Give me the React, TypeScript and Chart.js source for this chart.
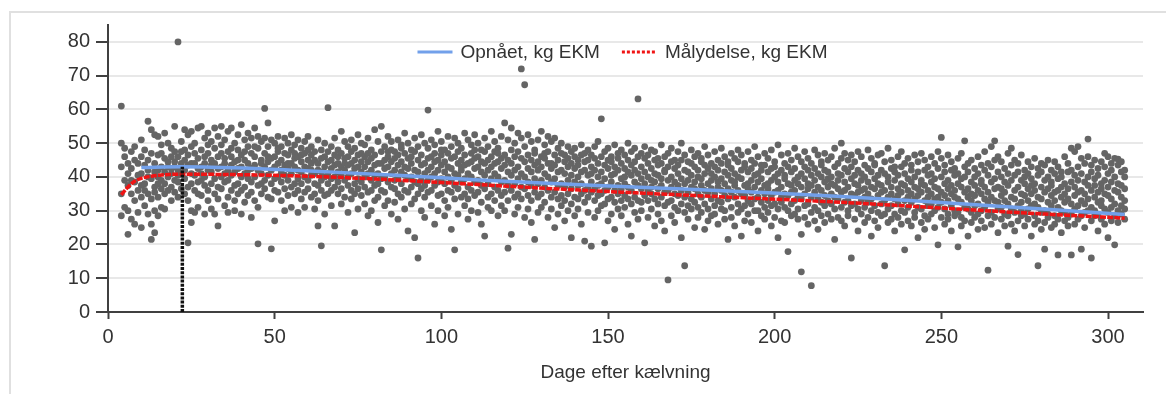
import React, { useEffect, useRef } from 'react';
import { Chart, registerables } from 'chart.js';

Chart.register(...registerables);

const FONT = "'Liberation Sans', Arial, sans-serif";

const xTicks = [0, 50, 100, 150, 200, 250, 300];
const yTicks = [0, 10, 20, 30, 40, 50, 60, 70, 80];
const X_MAX = 310.5;
const Y_MAX = 85;

const achievedLabel = 'Opnået, kg EKM';
const targetLabel = 'Målydelse, kg EKM';
const xTitle = 'Dage efter kælvning';

const achievedDays = [10, 22, 44, 66, 88, 110, 132, 154, 176, 198, 220, 243, 265, 285, 305];
const achievedKg = [42.8, 43, 42.5, 41.5, 40.4, 39.2, 38.1, 37.2, 36.3, 35.3, 34.2, 32.9, 31.5, 30.2, 28.9];

const targetDays = [4, 6, 8, 10, 13, 16, 22, 44, 66, 88, 110, 132, 154, 176, 198, 220, 243, 265, 285, 305];
const targetKg = [34.7, 37, 38.7, 39.6, 40.2, 40.6, 40.8, 40.6, 40, 39, 37.8, 36.6, 35.5, 34.5, 33.5, 32.5, 31.2, 29.9, 28.8, 27.8];

const markerDays = [22.3, 22.3];
const markerKg = [0, 43];

// [day, kg EKM, kg EKM, ...]
const cowRows: number[][] = [
  [4, 61, 50, 28.5, 35, 43], [5, 46, 39, 31, 48.5], [6, 44, 37.5, 30, 23, 41], [7, 47.5, 35, 27.5, 42.5, 39],
  [8, 45, 38.5, 33, 26, 49], [9, 44, 36, 40.5, 29.5], [10, 51, 46, 41, 34, 37.5, 25], [11, 48, 43.5, 38, 31.5, 36],
  [12, 56.5, 45, 40, 35, 29, 42], [13, 54, 47, 39.5, 33.5, 26, 21.5], [14, 52.5, 44, 37, 30, 23.5, 41.5, 35.5],
  [15, 52, 46.5, 42, 38, 34, 28.5, 40], [16, 49.5, 43, 39, 31, 36.5, 47], [17, 53, 45.5, 41.5, 35, 30.5, 38],
  [18, 50, 44.5, 40, 36, 43], [19, 48.5, 46, 41, 37, 33, 42.5], [20, 55, 47.5, 43, 39, 35.5, 44.5],
  [21, 80, 46, 42, 38.5, 34, 40.5], [22, 50.5, 44, 41, 36.5, 47.5], [23, 54, 45, 39.5, 35, 42, 48],
  [24, 52.5, 46.5, 43.5, 37, 33, 20.5], [25, 53.5, 49, 41, 38, 30, 26.5, 44], [26, 47, 44, 40.5, 36, 29.5, 50],
  [27, 54.5, 45.5, 42.5, 38.5, 31, 35], [28, 55, 48, 43, 39, 34.5, 41], [29, 51.5, 46, 40, 37.5, 29, 44],
  [30, 53, 47, 42, 36, 33, 49.5], [31, 50.5, 45, 41.5, 38, 30.5, 43.5], [32, 54.5, 48.5, 44, 39.5, 35, 29],
  [33, 52, 46, 42.5, 37, 33.5, 25.5], [34, 55, 49.5, 43, 40, 36.5, 47], [35, 51, 45.5, 41, 38.5, 31.5, 44],
  [36, 53.5, 47.5, 42, 39, 34, 29.5], [37, 54.5, 46, 43.5, 40.5, 36, 48.5], [38, 50, 44.5, 41.5, 37.5, 33, 30],
  [39, 52.5, 48, 42.5, 38, 35, 45], [40, 55.5, 46.5, 43, 40, 36, 29], [41, 51, 45, 41, 37, 32.5, 47.5],
  [42, 53, 49, 44, 39.5, 34.5, 42], [43, 51.5, 47, 42.5, 38.5, 35.5, 28], [44, 54.5, 46, 43.5, 40, 33, 49],
  [45, 52, 48.5, 42, 37.5, 31, 20.2], [46, 50.5, 45, 41, 38, 35, 44], [47, 60.3, 47, 43, 39, 36.5, 51.5],
  [48, 56, 49, 44.5, 40.5, 34, 46], [49, 18.7, 51, 45.5, 42, 38, 33.5], [50, 50, 46, 43, 39.5, 36, 27],
  [51, 52, 47.5, 44, 40, 35.5, 48.5], [52, 49, 45, 42, 38.5, 33, 41], [53, 51.5, 47, 43.5, 40.5, 36.5, 30],
  [54, 50, 46.5, 42.5, 39, 34.5, 44], [55, 52.5, 48, 44, 41, 37, 31], [56, 49.5, 45.5, 43, 38, 35, 47],
  [57, 51, 46, 42, 39.5, 36, 29.5], [58, 48.5, 44.5, 41.5, 38, 33.5, 46.5], [59, 50.5, 47, 43, 40, 35.5, 31],
  [60, 52, 45, 42.5, 39, 36.5, 48], [61, 49, 46.5, 44, 40.5, 34, 42], [62, 47.5, 45, 41, 38, 35, 30.5],
  [63, 51, 44, 42, 37.5, 33, 25.5], [64, 19.6, 48, 45.5, 41.5, 39, 36], [65, 50, 46, 43, 40, 34.5, 29],
  [66, 60.5, 47.5, 44.5, 41, 38, 35], [67, 49, 45, 42.5, 39.5, 36, 31.5], [68, 51.5, 46.5, 43.5, 40, 37, 25.5],
  [69, 48, 44, 41.5, 38.5, 35, 46], [70, 53.5, 47, 43, 40.5, 36.5, 32], [71, 50.5, 45.5, 42, 39, 34, 44],
  [72, 49, 46, 43.5, 40, 37.5, 29.5], [73, 51, 47.5, 44, 41, 36, 33.5], [74, 48.5, 45, 42.5, 38, 35, 23.5],
  [75, 52.5, 46.5, 43, 39.5, 36.5, 30.5], [76, 50, 44.5, 41.5, 38.5, 34.5, 47], [77, 49.5, 46, 43, 40, 37, 32],
  [78, 51.5, 47, 44.5, 41, 35.5, 28.5], [79, 48, 45.5, 42, 39, 36, 30], [80, 54, 46.5, 43.5, 40.5, 37.5, 33],
  [81, 50.5, 44, 41, 38, 34, 26.5], [82, 18.4, 55, 47.5, 44, 39.5, 36], [83, 49, 45, 42.5, 40, 35.5, 31.5],
  [84, 52, 46, 43, 38.5, 33, 47.5], [85, 50.5, 48, 44.5, 41, 37, 29], [86, 47.5, 45.5, 42, 39, 36.5, 32.5],
  [87, 51, 46.5, 43.5, 40, 35, 27.5], [88, 49.5, 44.5, 41.5, 38, 34, 48.5], [89, 53, 47, 43, 40.5, 36, 30.5],
  [90, 50, 45.5, 42.5, 39.5, 35.5, 24], [91, 48, 46, 44, 40, 37, 32], [92, 51.5, 47.5, 42, 38.5, 33.5, 22],
  [93, 16, 49, 45, 41.5, 38, 35], [94, 52.5, 46.5, 43.5, 39, 36.5, 30], [95, 50, 44, 41, 37.5, 34, 28],
  [96, 59.8, 48.5, 45.5, 42, 39, 35.5], [97, 51, 46, 43, 40, 36, 31.5], [98, 49.5, 47, 44.5, 41, 37.5, 26],
  [99, 53.5, 45, 42, 38.5, 34.5, 30], [100, 50.5, 46.5, 43.5, 39.5, 35, 48], [101, 48, 44.5, 41.5, 38, 33, 28.5],
  [102, 52, 47, 43, 40, 36, 31], [103, 49, 45.5, 42.5, 39, 35.5, 24.5], [104, 18.4, 51.5, 46, 41, 37.5, 33.5],
  [105, 50, 47.5, 44, 40.5, 36.5, 29], [106, 48.5, 45, 42, 38.5, 34, 43], [107, 53, 46.5, 43.5, 39.5, 35, 31.5],
  [108, 51, 44, 41, 37, 33.5, 27.5], [109, 49.5, 47, 44.5, 40, 36, 30], [110, 52.5, 45.5, 42.5, 38.5, 34.5, 48],
  [111, 50, 46, 43, 39, 35.5, 29.5], [112, 48, 44.5, 41.5, 37.5, 32.5, 26], [113, 51.5, 47.5, 44, 40.5, 36.5, 22.5],
  [114, 49, 45, 42, 38, 34, 31], [115, 53.5, 46, 43, 39.5, 35, 30], [116, 50.5, 44, 41, 37, 33, 47.5],
  [117, 48.5, 47, 44.5, 40, 36, 28.5], [118, 52, 45.5, 42.5, 38.5, 34.5, 31.5], [119, 56, 46.5, 43.5, 39, 35.5, 30],
  [120, 18.9, 51, 45, 41.5, 37.5, 33], [121, 54.5, 48, 44, 40.5, 36, 23], [122, 50, 46, 42, 38, 34, 29],
  [123, 53, 47.5, 43, 39.5, 35, 31], [124, 72, 51.5, 45.5, 41, 37, 33.5], [125, 67.3, 49, 44.5, 40, 36.5, 28],
  [126, 52.5, 46.5, 42.5, 38.5, 34.5, 30.5], [127, 50.5, 45, 41.5, 37.5, 33, 26.5], [128, 48, 47, 43.5, 39.5, 35.5, 21.5],
  [129, 51, 44.5, 42, 38, 34, 29.5], [130, 53.5, 46, 43, 39, 35, 31], [131, 49.5, 45.5, 41, 37, 32.5, 47],
  [132, 52, 47.5, 44, 40, 36, 28], [133, 50.5, 44, 42.5, 38.5, 34, 30.5], [134, 51.5, 46.5, 43.5, 39.5, 35.5, 25],
  [135, 48.5, 45, 41.5, 37.5, 33.5, 29], [136, 50, 47, 42, 38, 34.5, 31.5], [137, 46.5, 44.5, 41, 37, 33, 27],
  [138, 49, 45.5, 43, 39, 35, 30], [139, 47.5, 44, 40.5, 36.5, 32, 22], [140, 48.5, 46, 42.5, 38.5, 34, 28.5],
  [141, 45, 43.5, 40, 37.5, 33.5, 30.5], [142, 49.5, 46.5, 41.5, 38, 35, 26], [143, 47, 44.5, 42, 36, 32.5, 21],
  [144, 48, 45, 40.5, 37, 34, 29.5], [145, 46.5, 43, 41, 38.5, 35.5, 19.5], [146, 49, 45.5, 42, 36.5, 33, 28],
  [147, 50.5, 44, 40, 37.5, 34.5, 30], [148, 57.2, 46, 41.5, 38, 35, 31.5], [149, 47.5, 43.5, 39.5, 36, 32, 20.5],
  [150, 48.5, 45, 42.5, 37, 33.5, 27], [151, 46, 44.5, 40.5, 38.5, 34, 29], [152, 49.5, 43, 41, 36, 32.5, 24.5],
  [153, 47, 45.5, 42, 37.5, 35, 30.5], [154, 48, 44, 39.5, 36.5, 33, 28.5], [155, 46.5, 42.5, 40, 38, 34.5, 31],
  [156, 50, 45, 41.5, 37, 33.5, 26], [157, 47.5, 43.5, 40.5, 36, 32, 22.5], [158, 48.5, 44.5, 42, 38.5, 34, 29.5],
  [159, 63.1, 46, 41, 37.5, 33, 27.5], [160, 47, 43, 39.5, 36.5, 32.5, 30], [161, 49, 45.5, 41.5, 38, 34.5, 20.5],
  [162, 46.5, 44, 40, 36, 33, 28], [163, 48, 42.5, 39, 37, 35, 30.5], [164, 47.5, 45, 41, 38.5, 33.5, 25.5],
  [165, 45.5, 43.5, 40.5, 36.5, 32, 29], [166, 49.5, 44, 39.5, 37.5, 34, 27], [167, 46, 42, 41.5, 35.5, 31.5, 24],
  [168, 9.5, 47, 43, 39, 36, 32.5], [169, 48.5, 44.5, 40, 37, 33, 28.5], [170, 45, 42.5, 38.5, 35, 31, 26.5],
  [171, 47.5, 43.5, 41, 37.5, 34.5, 30], [172, 50, 45, 39.5, 36, 32, 22], [173, 13.7, 46.5, 42, 38, 34, 29.5],
  [174, 44.5, 41.5, 39, 35.5, 31.5, 27.5], [175, 48, 44, 40.5, 37, 33.5, 30.5], [176, 46, 43, 38.5, 36.5, 32.5, 25],
  [177, 47, 42, 40, 35, 31, 28], [178, 45.5, 44.5, 39.5, 37.5, 34, 29.5], [179, 49, 43.5, 41, 36, 32, 24.5],
  [180, 46.5, 42.5, 38, 35.5, 30.5, 27], [181, 44, 41, 39, 36.5, 33.5, 28.5], [182, 47.5, 43, 40, 35, 31.5, 29],
  [183, 45, 42, 38.5, 37, 33, 26], [184, 48.5, 44, 39.5, 36, 32.5, 30.5], [185, 46, 41.5, 38, 34.5, 30, 27.5],
  [186, 44.5, 43.5, 40.5, 36.5, 33.5, 21.5], [187, 47, 42.5, 39, 35.5, 31, 28], [188, 45.5, 41, 38.5, 37.5, 34, 25.5],
  [189, 48, 44.5, 40, 36, 32, 29.5], [190, 46.5, 42, 39.5, 35, 30.5, 22.5], [191, 44, 43, 37.5, 34.5, 31.5, 27],
  [192, 47.5, 41.5, 38, 36.5, 33, 29], [193, 45, 42.5, 39, 35.5, 32, 26.5], [194, 49, 44, 40.5, 37, 33.5, 30],
  [195, 46, 41, 38.5, 34, 30, 24], [196, 43.5, 42, 39.5, 36, 32.5, 28.5], [197, 47, 43.5, 37.5, 35, 31, 27.5],
  [198, 45.5, 41.5, 38, 36.5, 33, 29.5], [199, 48, 42.5, 39, 34.5, 31.5, 25.5], [200, 44.5, 43, 40, 35.5, 32, 28],
  [201, 49.5, 41, 38.5, 36, 30.5, 22], [202, 46.5, 42, 37, 34, 32.5, 27], [203, 44, 40.5, 39.5, 35, 31, 26.5],
  [204, 17.9, 47, 43, 38, 34.5, 30], [205, 45, 41.5, 37.5, 35.5, 32, 28.5], [206, 48.5, 42.5, 39, 36, 33, 29],
  [207, 46, 40, 38, 34, 30.5, 27.5], [208, 11.9, 44.5, 41, 37, 33.5, 23], [209, 47.5, 43, 39.5, 35, 31.5, 28],
  [210, 45.5, 42, 38, 36.5, 32, 26], [211, 7.8, 44, 40.5, 37.5, 34, 29.5], [212, 48, 42.5, 39, 35.5, 31, 27],
  [213, 46.5, 41, 37, 33.5, 30, 24.5], [214, 44.5, 43.5, 40, 36, 32.5, 28.5], [215, 47, 42, 38.5, 34.5, 31.5, 26.5],
  [216, 45, 41.5, 39.5, 37, 33, 29], [217, 46, 40, 38, 35, 32, 27.5], [218, 48.5, 43, 37.5, 34, 30.5, 21.5],
  [219, 44, 41, 39, 36.5, 33.5, 28], [220, 50, 45.5, 40.5, 35.5, 31, 27], [221, 47, 42.5, 38.5, 36, 32.5, 25.5],
  [222, 45, 41.5, 37, 33, 30, 28.5], [223, 16, 46.5, 43, 39.5, 35, 31.5], [224, 44.5, 40.5, 38, 34.5, 32, 27.5],
  [225, 47.5, 42, 37.5, 35.5, 30.5, 24], [226, 46, 41, 39, 36, 33, 29], [227, 43.5, 40, 36.5, 34, 31, 26.5],
  [228, 48, 42.5, 38.5, 35, 32.5, 28], [229, 45.5, 41.5, 37, 33.5, 30, 22.5], [230, 44, 43.5, 39.5, 36.5, 31.5, 27],
  [231, 46.5, 40.5, 38, 34.5, 29.5, 25], [232, 47, 42, 37.5, 35.5, 32, 28.5], [233, 13.7, 44.5, 41, 36, 33, 29],
  [234, 48.5, 40, 38.5, 34, 30.5, 26.5], [235, 45, 42.5, 37, 35, 31.5, 27.5], [236, 43, 41.5, 39, 33.5, 29, 24],
  [237, 46, 40.5, 36.5, 34.5, 32, 28], [238, 47.5, 43, 38, 35.5, 30, 26], [239, 18.4, 44, 41, 37.5, 33, 29.5],
  [240, 45.5, 39.5, 36, 34, 31, 27], [241, 43.5, 42, 38.5, 35, 32.5, 25.5], [242, 46.5, 40, 37, 33.5, 29.5, 28],
  [243, 44.5, 41.5, 36.5, 34.5, 31, 22], [244, 47, 39, 38, 35.5, 30.5, 26.5], [245, 45, 42, 37.5, 33, 28.5, 24.5],
  [246, 43, 40.5, 36, 34, 31.5, 27.5], [247, 46, 41, 38.5, 35, 32, 29], [248, 44, 39.5, 37, 33.5, 30, 25],
  [249, 19.9, 47.5, 42.5, 36.5, 34, 31], [250, 51.7, 45.5, 40, 35.5, 32.5, 28], [251, 43.5, 41.5, 38, 34.5, 30.5, 26],
  [252, 46.5, 39, 36.5, 33, 29, 27.5], [253, 44.5, 42, 37.5, 35, 31.5, 24], [254, 42.5, 40.5, 36, 34, 30, 28.5],
  [255, 19.3, 45.5, 41, 38, 33.5, 29.5], [256, 47, 39.5, 37, 32.5, 28, 25.5], [257, 50.7, 43, 40, 35.5, 31, 27],
  [258, 44, 41.5, 36.5, 34, 30.5, 22.5], [259, 45, 38.5, 35, 33, 29.5, 26.5], [260, 42.5, 40, 37.5, 34.5, 31.5, 28],
  [261, 46, 41, 36, 32, 29, 24.5], [262, 43.5, 39, 38, 35, 30, 27], [263, 47.5, 42, 37, 33.5, 31, 25],
  [264, 12.4, 44, 40.5, 35.5, 32.5, 28.5], [265, 49, 43, 38.5, 34, 29.5, 26], [266, 50.7, 45, 39.5, 36.5, 33, 28],
  [267, 46, 41.5, 37, 32.5, 30.5, 23.5], [268, 44.5, 40, 36.5, 34.5, 31, 27.5], [269, 42.5, 38.5, 35.5, 33, 29, 25.5],
  [270, 19.5, 47, 41, 37.5, 32, 28.5], [271, 48.5, 43.5, 39, 34, 30.5, 26], [272, 45, 40.5, 36, 33.5, 29.5, 24],
  [273, 17, 44, 41.5, 37, 31.5, 27], [274, 46.5, 39, 35, 32.5, 30, 28.5], [275, 42, 40, 38, 34.5, 29, 25.5],
  [276, 44.5, 41, 36.5, 33, 30.5, 27.5], [277, 43, 39.5, 37.5, 35, 31.5, 22.5], [278, 45.5, 38, 36, 32, 28.5, 26],
  [279, 13.7, 42.5, 40.5, 34, 31, 27], [280, 44, 41.5, 37, 33.5, 29.5, 24.5], [281, 18.6, 43.5, 39, 35.5, 30, 26.5],
  [282, 45, 40, 36.5, 32.5, 29, 28], [283, 42, 38.5, 37.5, 34.5, 31.5, 25], [284, 44.5, 41, 35.5, 33, 28.5, 26],
  [285, 16.9, 43, 39.5, 36, 31, 27.5], [286, 41.5, 40, 37, 34, 30, 23.5], [287, 46, 38, 35, 32.5, 29.5, 27],
  [288, 44, 41.5, 36.5, 33.5, 28, 25.5], [289, 16.9, 48.5, 42, 38.5, 32, 29], [290, 47.5, 40.5, 37, 34.5, 30.5, 26],
  [291, 49, 43, 39, 35.5, 31.5, 27.5], [292, 18.6, 45.5, 41, 36, 33, 28.5], [293, 44, 38.5, 35, 32, 29.5, 25],
  [294, 51.2, 46, 40, 37.5, 33.5, 30], [295, 16, 43.5, 41.5, 36, 31, 27], [296, 45, 39.5, 37.5, 34, 30, 28.5],
  [297, 42.5, 40.5, 35.5, 32.5, 29, 24], [298, 44.5, 38, 36.5, 33, 31.5, 27.5], [299, 47, 43, 39, 35, 30.5, 26],
  [300, 46, 41, 37, 34.5, 29.5, 22], [301, 44, 42, 38.5, 33.5, 31, 27], [302, 19.9, 45.5, 40, 36, 32, 28.5],
  [303, 45.3, 43.5, 38, 35.5, 30, 26.5], [304, 44.5, 41.5, 37.5, 34, 31.5, 29], [305, 42, 40, 36.5, 33, 30.5, 27.5],
];

const framePlugin = {
  id: 'frame',
  beforeDraw(chart: any) {
    const ctx = chart.ctx;
    ctx.save();
    ctx.strokeStyle = '#e0e0e0';
    ctx.lineWidth = 2;
    ctx.beginPath();
    ctx.moveTo(10, chart.height);
    ctx.lineTo(10, 12);
    ctx.lineTo(chart.width, 12);
    ctx.stroke();
    ctx.restore();
  },
};

const inlineLegend = {
  id: 'inlineLegend',
  afterDraw(chart: any) {
    const { ctx, chartArea } = chart;
    const items = chart.data.datasets.filter((d: any) => d.legendDash);
    ctx.save();
    ctx.font = `19px ${FONT}`;
    const sample = 35;
    const gapText = 8;
    const gapItem = 22;
    const widths = items.map((it: any) => ctx.measureText(it.label).width);
    const total =
      widths.reduce((a: number, w: number) => a + sample + gapText + w, 0) + gapItem * (items.length - 1);
    let x = (chartArea.left + chartArea.right) / 2 - 3 - total / 2;
    const y = 53;
    items.forEach((it: any, i: number) => {
      ctx.beginPath();
      ctx.setLineDash(it.legendDash);
      ctx.strokeStyle = it.borderColor;
      ctx.lineWidth = 3;
      ctx.moveTo(x, y - 1);
      ctx.lineTo(x + sample, y - 1);
      ctx.stroke();
      ctx.setLineDash([]);
      ctx.fillStyle = '#333';
      ctx.textBaseline = 'middle';
      ctx.textAlign = 'left';
      ctx.fillText(it.label, x + sample + gapText, y);
      x += sample + gapText + widths[i] + gapItem;
    });
    ctx.restore();
  },
};

export default function App() {
  const ref = useRef<HTMLCanvasElement>(null);

  useEffect(() => {
    const canvas = ref.current;
    if (!canvas) return;

    const points = cowRows.flatMap(([day, ...vals]) => vals.map((v) => ({ x: day, y: v })));
    const achieved = achievedDays.map((d, i) => ({ x: d, y: achievedKg[i] }));
    const target = targetDays.map((d, i) => ({ x: d, y: targetKg[i] }));
    const marker = markerDays.map((d, i) => ({ x: d, y: markerKg[i] }));

    const chart = new Chart(canvas, {
      type: 'scatter',
      data: {
        datasets: [
          {
            type: 'line',
            label: achievedLabel,
            data: achieved,
            borderColor: '#72a0ea',
            borderWidth: 3.5,
            pointRadius: 0,
            cubicInterpolationMode: 'monotone',
            order: 2,
            legendDash: [],
          } as any,
          {
            type: 'line',
            label: targetLabel,
            data: target,
            borderColor: '#f01414',
            borderWidth: 3.5,
            borderDash: [6, 1.2],
            pointRadius: 0,
            cubicInterpolationMode: 'monotone',
            order: 1,
            legendDash: [3, 2],
          } as any,
          {
            type: 'line',
            label: 'marker',
            data: marker,
            borderColor: '#111111',
            borderWidth: 3.5,
            borderDash: [3, 1.2],
            pointRadius: 0,
            order: 0,
          } as any,
          {
            type: 'scatter',
            label: 'kg EKM',
            data: points,
            backgroundColor: '#656565',
            borderWidth: 0,
            pointRadius: 3.4,
            pointHoverRadius: 3.4,
            order: 10,
          } as any,
        ],
      },
      options: {
        animation: false,
        responsive: false,
        events: [],
        layout: { padding: { left: 0, top: 25, right: 23, bottom: 0 } },
        plugins: {
          legend: { display: false },
          tooltip: { enabled: false },
        },
        scales: {
          x: {
            type: 'linear',
            min: 0,
            max: X_MAX,
            afterBuildTicks: (s: any) => {
              s.ticks = xTicks.map((v) => ({ value: v }));
            },
            afterFit: (s: any) => {
              s.height = 82;
            },
            grid: {
              drawOnChartArea: false,
              drawTicks: true,
              tickLength: 7,
              tickColor: '#404040',
              tickWidth: 2,
            },
            border: { display: true, color: '#404040', width: 2 },
            ticks: {
              padding: 6,
              color: '#333',
              font: { family: FONT, size: 20 },
              maxRotation: 0,
            },
            title: {
              display: true,
              text: xTitle,
              color: '#333',
              font: { family: FONT, size: 19 },
              padding: { top: 0, bottom: 10 },
            },
          },
          y: {
            type: 'linear',
            min: 0,
            max: Y_MAX,
            afterBuildTicks: (s: any) => {
              s.ticks = yTicks.map((v) => ({ value: v }));
            },
            afterFit: (s: any) => {
              s.width = 108;
            },
            grid: {
              color: '#e8e8e8',
              lineWidth: 2,
              drawTicks: true,
              tickLength: 12,
              tickColor: '#404040',
              tickWidth: 2,
            },
            border: { display: true, color: '#404040', width: 2 },
            ticks: {
              padding: 6,
              color: '#333',
              font: { family: FONT, size: 20 },
            },
          },
        },
      },
      plugins: [framePlugin, inlineLegend],
    });

    return () => chart.destroy();
  }, []);

  return (
    <div style={{ position: 'fixed', left: 0, top: 0, width: 1166, height: 394, background: '#fff' }}>
      <canvas ref={ref} width={1166} height={394} style={{ display: 'block' }} />
    </div>
  );
}
